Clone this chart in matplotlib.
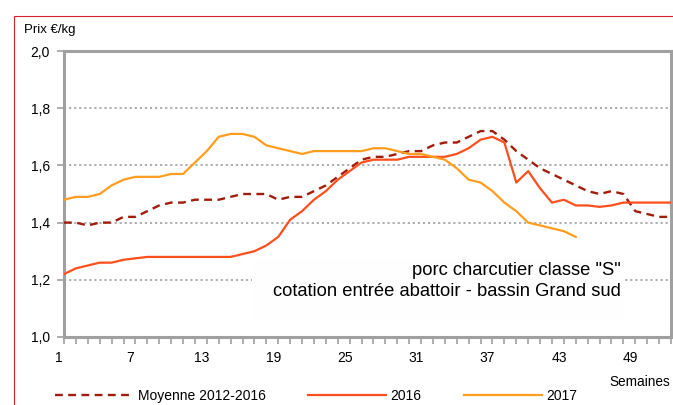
'''
plot.py - porc charcutier classe "S", cotation bassin Grand sud
'''
import numpy as np
import matplotlib
matplotlib.use('Agg')
import matplotlib.pyplot as plt
import matplotlib.patches as patches
import matplotlib.transforms as mtransforms

# data
weeks = np.arange(1, 53)
moyenne = [1.40, 1.40, 1.39, 1.40, 1.40, 1.42, 1.42, 1.44, 1.46, 1.47,
           1.47, 1.48, 1.48, 1.48, 1.49, 1.50, 1.50, 1.50, 1.48, 1.49,
           1.49, 1.51, 1.53, 1.56, 1.59, 1.62, 1.63, 1.63, 1.64, 1.65,
           1.65, 1.67, 1.68, 1.68, 1.70, 1.72, 1.72, 1.69, 1.65, 1.62,
           1.59, 1.57, 1.55, 1.53, 1.51, 1.50, 1.51, 1.50, 1.44, 1.43,
           1.42, 1.42]
prix_2016 = [1.22, 1.24, 1.25, 1.26, 1.26, 1.27, 1.275, 1.28, 1.28, 1.28,
             1.28, 1.28, 1.28, 1.28, 1.28, 1.29, 1.30, 1.32, 1.35, 1.41,
             1.44, 1.48, 1.51, 1.55, 1.58, 1.61, 1.62, 1.62, 1.62, 1.63,
             1.63, 1.63, 1.63, 1.64, 1.66, 1.69, 1.70, 1.68, 1.54, 1.58,
             1.52, 1.47, 1.48, 1.46, 1.46, 1.455, 1.46, 1.47, 1.47, 1.47,
             1.47, 1.47]
prix_2017 = [1.48, 1.49, 1.49, 1.50, 1.53, 1.55, 1.56, 1.56, 1.56, 1.57,
             1.57, 1.61, 1.65, 1.70, 1.71, 1.71, 1.70, 1.67, 1.66, 1.65,
             1.64, 1.65, 1.65, 1.65, 1.65, 1.65, 1.66, 1.66, 1.65, 1.64,
             1.64, 1.63, 1.62, 1.59, 1.55, 1.54, 1.51, 1.47, 1.44, 1.40,
             1.39, 1.38, 1.37, 1.35]
week_labels = [1, 7, 13, 19, 25, 31, 37, 43, 49]
y_ticks = [1.0, 1.2, 1.4, 1.6, 1.8, 2.0]

W, H = 673, 405
plt.rcParams['font.family'] = ['Liberation Sans', 'DejaVu Sans']

fig = plt.figure(figsize=(W / 100, H / 100), dpi=100)
ax = fig.add_axes([64 / W, (H - 337) / H, (671 - 64) / W, (337 - 51) / H])

# red outer border
fig.patches.append(patches.Rectangle((13.5 / W, -0.1), 1.2, 1.1 - 15.5 / H,
                                     transform=fig.transFigure, fill=False,
                                     edgecolor='#d9202c', linewidth=0.8))

# grid
for v in y_ticks[1:-1]:
    ax.axhline(v, color='#a6a6a6', linewidth=1.3, linestyle=(0, (1.2, 1.6)),
               zorder=1)

# white box behind the annotation
ax.add_patch(patches.Rectangle((16.8, 1.065), 31.3, 0.208, facecolor='#fefefe',
                               edgecolor='none', zorder=2))

ax.plot(weeks, moyenne, color='#a01c0c', linewidth=1.7,
        linestyle=(0, (3.3, 2.3)), label='Moyenne 2012-2016', zorder=3)
ax.plot(weeks, prix_2016, color='#ff4f1c', linewidth=1.6, label='2016',
        zorder=4)
ax.plot(weeks[:len(prix_2017)], prix_2017, color='#ff9d1e', linewidth=1.6,
        label='2017', zorder=4)

ax.set_xlim(1, 52)
ax.set_ylim(1.0, 2.0)
ax.set_xticks(weeks)
ax.set_xticklabels([str(w) if w in week_labels else '' for w in weeks])
ax.set_yticks(y_ticks)
ax.set_yticklabels([('%.1f' % v).replace('.', ',') for v in y_ticks])
ax.tick_params(axis='both', direction='out', length=5, width=1.2,
               color='#a0a0a0', labelsize=10, labelcolor='black')
ax.tick_params(axis='x', pad=5)
ax.tick_params(axis='y', pad=5)

# shift x labels a bit to the left like the original
offset = mtransforms.ScaledTranslation(-5 / 100, 0, fig.dpi_scale_trans)
for lab in ax.get_xticklabels():
    lab.set_transform(lab.get_transform() + offset)

for sp in ax.spines.values():
    sp.set_color('#a0a0a0')
    sp.set_linewidth(2.2)

ax.text(47.8, 1.233, 'porc charcutier classe "S"', ha='right', va='center',
        fontsize=13.2, zorder=5)
ax.text(47.8, 1.16, 'cotation entrée abattoir - bassin Grand sud',
        ha='right', va='center', fontsize=13.2, zorder=5)

fig.text(24 / W, 1 - 30 / H, 'Prix €/kg', ha='left', va='center',
         fontsize=9.5)
fig.text(670 / W, 1 - 382 / H, 'Semaines', ha='right', va='center',
         fontsize=9.8)

fig.legend(loc='center left', bbox_to_anchor=(55 / W, 1 - 396 / H), ncol=3,
           frameon=False, fontsize=10, handlelength=5.6, handletextpad=0.35,
           columnspacing=3.05, borderpad=0, borderaxespad=0)

fig.savefig('out.png', dpi=100)
